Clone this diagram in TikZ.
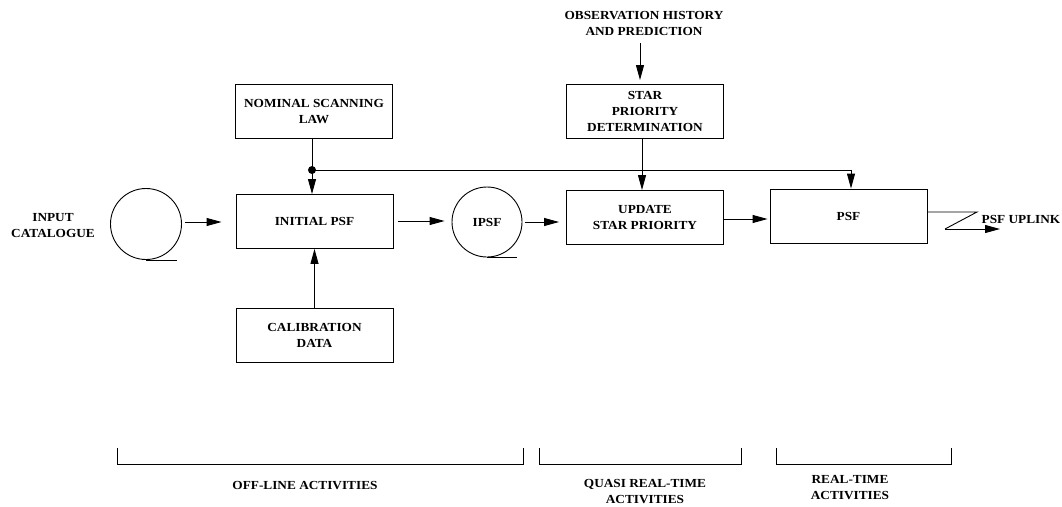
\documentclass[tikz,border=0pt]{standalone}
\usepackage{fontspec}
\setmainfont{Liberation Serif}[FakeStretch=1.08]
\usetikzlibrary{arrows.meta}
\begin{document}
\begin{tikzpicture}[x=1pt,y=-1pt,
  lbl/.style={font=\fontsize{12.3}{16}\selectfont\bfseries, align=center, inner sep=0pt},
  box/.style={lbl, draw, line width=0.9pt, minimum width=157pt, minimum height=54pt},
  tape/.style={lbl, draw, circle, line width=0.9pt},
  conn/.style={line width=0.9pt},
  arr/.style={conn, -{Triangle[length=15pt,width=8pt]}}]
\useasboundingbox (0,0) rectangle (1062,506);

% nodes
\node[box] (nsl) at (314,111.5) {NOMINAL SCANNING\\LAW};
\node[box] (ipsf) at (314.5,221.5) {INITIAL PSF};
\node[box] (cal) at (314.5,335.5) {CALIBRATION\\DATA};
\node[box] (spd) at (645,111.5) {STAR\\PRIORITY\\DETERMINATION};
\node[box] (usp) at (645,217.5) {UPDATE\\STAR PRIORITY};
\node[box] (psf) at (848.5,216) {PSF};

\node[tape, minimum size=71pt] (inc) at (146,224) {};
\node[lbl] (inct) at (53,226) {INPUT\\CATALOGUE};
\node[tape, minimum size=70pt] (ipc) at (487,222) {IPSF};

\node[lbl] (obs) at (644,23.5) {OBSERVATION HISTORY\\AND PREDICTION};
\node[lbl] (upl) at (1021,219) {PSF UPLINK};

\coordinate (j) at (312,170);
\coordinate (jr) at (851,170);
\coordinate (u1) at (977,212);
\coordinate (u2) at (945,229);
\coordinate (u3) at (1000,229);

% tape tails
\draw[conn] (inc.south) -- ++(31,0);
\draw[conn] (ipc.south) -- ++(30,0);

% connectors
\draw[conn] (nsl.south -| j) -- (j);
\fill (j) circle (4);
\draw[arr] (j) -- (ipsf.north -| j);
\draw[conn] (j) -- (jr);
\draw[arr] (jr) -- (psf.north -| jr);
\draw[arr] (cal.north) -- (ipsf.south);
\draw[arr, shorten <=3pt, shorten >=14pt] (inc.east |- 0,222) -- (ipsf.west |- 0,222);
\draw[arr, shorten <=5pt, shorten >=7pt] (ipsf.east |- 0,221) -- (ipc.west |- 0,221);
\draw[arr, shorten <=3pt, shorten >=7pt] (ipc.east |- 0,222) -- (usp.west |- 0,222);
\draw[arr, shorten >=2pt] (usp.east |- 0,219) -- (psf.west |- 0,219);
\draw[arr] (spd.south -| 642,0) -- (usp.north -| 642,0);
\draw[arr, shorten <=7pt, shorten >=4pt] (obs.south -| 640,0) -- (spd.north -| 640,0);
\draw[conn] (psf.east |- u1) -- (u1) -- (u2);
\draw[arr] (u2) -- (u3);

% activity brackets
\draw[conn] (117,448) -- (117,464) -- (523,464) -- (523,448);
\draw[conn] (539,448) -- (539,464) -- (741,464) -- (741,448);
\draw[conn] (776,448) -- (776,464) -- (951,464) -- (951,448);
\node[lbl] (off) at (305,486) {OFF-LINE ACTIVITIES};
\node[lbl] (qrt) at (645,492) {QUASI REAL-TIME\\ACTIVITIES};
\node[lbl] (rt) at (850,488) {REAL-TIME\\ACTIVITIES};
\end{tikzpicture}
\end{document}
